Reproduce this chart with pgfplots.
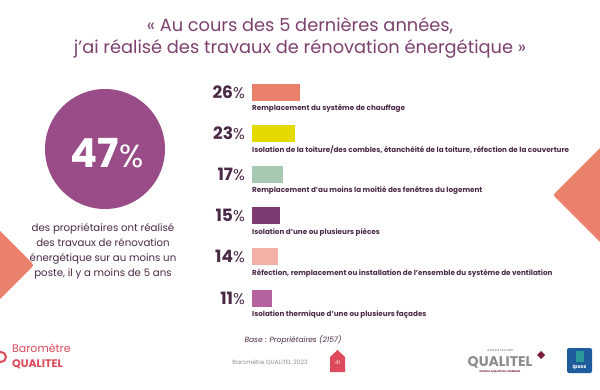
\documentclass[border=0pt]{standalone}
\usepackage{pgfplots}
\pgfplotsset{compat=1.18}
\usepackage{fontspec}
\setmainfont{Poppins}
\definecolor{salmon}{HTML}{EB806C}
\definecolor{yel}{HTML}{E4DA00}
\definecolor{sage}{HTML}{A7C9B1}
\definecolor{plum}{HTML}{7D3B73}
\definecolor{pinkl}{HTML}{F2B1A7}
\definecolor{mauve}{HTML}{B5629F}
\definecolor{circ}{HTML}{9A4C88}
\definecolor{titlec}{HTML}{7E416F}
\definecolor{darkt}{HTML}{4A2A46}
\definecolor{qred}{HTML}{DD4A5B}
\definecolor{qgray}{HTML}{8C8C8C}
\definecolor{qwine}{HTML}{7A1F3A}
\definecolor{ipsb}{HTML}{1F5C9E}
\definecolor{ipst}{HTML}{2A9A9A}
\begin{document}
\begin{tikzpicture}[x=1pt,y=-1pt]
\path[use as bounding box, fill=white] (0,0) rectangle (600,390);
\begin{scope}
\clip (0,0) rectangle (600,390);
\fill[salmon, rounded corners=2.5pt] (553,195) -- (612,136) -- (612,254) -- cycle;
\fill[salmon, rounded corners=2.5pt] (34,265) -- (-12,219) -- (-12,311) -- cycle;
\draw[qred, line width=2pt] (1,357) circle (5);
\end{scope}
% title
\node[text=titlec, align=center, font=\fontsize{17.8}{22}\selectfont] at (300,38)
 {«~Au cours des 5 dernières années,\\j'ai réalisé des travaux de rénovation énergétique~»};
% circle
\fill[circ] (105,149) circle (60);
\node[white, inner sep=0pt] at (107,153) {\fontsize{40}{40}\selectfont\bfseries 47\fontsize{32}{32}\selectfont\mdseries\%};
\node[text=darkt, align=center, font=\fontsize{10.2}{15.2}\selectfont] at (103,251.5)
 {des propriétaires ont réalisé\\des travaux de rénovation\\énergétique sur au moins un\\poste, il y a moins de 5 ans};
% chart
\begin{axis}[at={(252pt,-92pt)}, anchor=origin,
  x=1.85pt, y=41.2pt, y dir=reverse,
  xmin=0, xmax=30, ymin=-0.5, ymax=5.5,
  axis lines=none, clip=false]
\addplot[xbar, bar width=17pt, bar shift=0pt, draw=none, fill=salmon] coordinates {(26,0)};
\addplot[xbar, bar width=17pt, bar shift=0pt, draw=none, fill=yel] coordinates {(23,1)};
\addplot[xbar, bar width=17pt, bar shift=0pt, draw=none, fill=sage] coordinates {(17,2)};
\addplot[xbar, bar width=17pt, bar shift=0pt, draw=none, fill=plum] coordinates {(15,3)};
\addplot[xbar, bar width=17pt, bar shift=0pt, draw=none, fill=pinkl] coordinates {(14,4)};
\addplot[xbar, bar width=17pt, bar shift=0pt, draw=none, fill=mauve] coordinates {(11,5)};
\addplot[draw=none, mark=none, point meta=explicit symbolic,
  nodes near coords={\textbf{\pgfplotspointmeta}{\fontsize{15.5}{15}\selectfont\%}},
  nodes near coords style={anchor=east, xshift=-7pt, text=darkt, font=\fontsize{17}{17}\selectfont, inner sep=0pt}]
  coordinates {(0,0) [26] (0,1) [23] (0,2) [17] (0,3) [15] (0,4) [14] (0,5) [11]};
\begin{scope}[every node/.style={anchor=west, text=darkt, inner sep=0pt, yshift=-16.5pt, font=\fontsize{7.2}{8}\selectfont\bfseries}]
\node at (axis cs:0,0) {Remplacement du système de chauffage};
\node at (axis cs:0,1) {Isolation de la toiture/des combles, étanchéité de la toiture, réfection de la couverture};
\node at (axis cs:0,2) {Remplacement d'au moins la moitié des fenêtres du logement};
\node at (axis cs:0,3) {Isolation d'une ou plusieurs pièces};
\node at (axis cs:0,4) {Réfection, remplacement ou installation de l'ensemble du système de ventilation};
\node at (axis cs:0,5) {Isolation thermique d'une ou plusieurs façades};
\end{scope}
\end{axis}
% footer
\node[text=darkt, font=\fontsize{7.5}{8}\selectfont\itshape] at (293,340) {Base : Propriétaires (2157)};
\node[text=qgray, font=\fontsize{6}{7}\selectfont] at (270,363) {Baromètre QUALITEL 2023};
\fill[qred] (330,372) -- (330,357) -- (337.5,350) -- (345,357) -- (345,372) -- cycle;
\node[white, font=\fontsize{5}{6}\selectfont] at (337.5,363) {41};
\node[text=qred, anchor=west, inner sep=0pt, font=\fontsize{11}{12}\selectfont] at (12,348) {Baromètre};
\node[text=qred, anchor=west, inner sep=0pt, font=\fontsize{11}{12}\selectfont\bfseries] at (12,364) {QUALITEL};
\node[text=qgray, font=\fontsize{2.8}{3}\selectfont\bfseries] at (500,351) {A S S O C I A T I O N};
\node[text=qgray, font=\fontsize{14}{14}\selectfont\bfseries, inner sep=0pt] at (500,362) {QUALITEL};
\node[text=qwine, font=\fontsize{2.6}{3}\selectfont\bfseries] at (500,371) {POUR LA QUALITÉ DU LOGEMENT};
\fill[qwine] (541,351) -- (545,355) -- (541,359) -- (537,355) -- cycle;
\fill[ipsb, rounded corners=2pt] (567,348) rectangle (592,373);
\fill[ipst] (575.5,351) rectangle (583.5,362);
\node[white, font=\fontsize{5}{6}\selectfont\bfseries] at (579.5,367) {Ipsos};
\end{tikzpicture}
\end{document}
